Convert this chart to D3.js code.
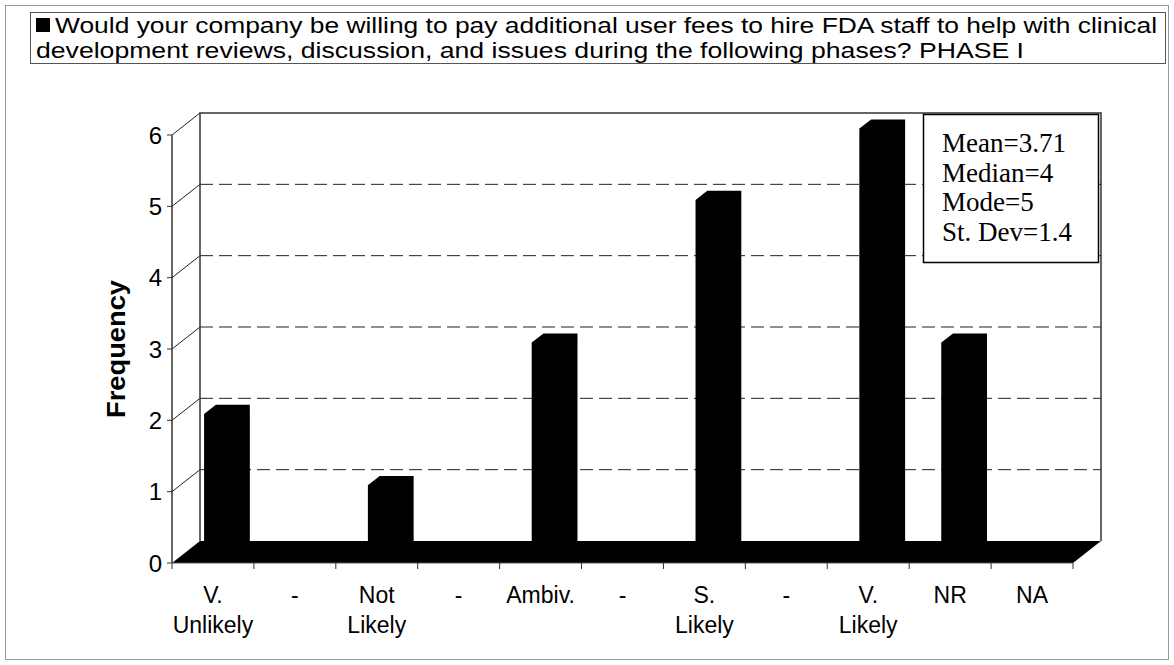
<!DOCTYPE html>
<html>
<head>
<meta charset="utf-8">
<script src="https://cdn.jsdelivr.net/npm/d3@7"></script>
<style>
  body { margin: 0; background: #fff; }
  svg { display: block; }
</style>
</head>
<body>
<div id="chart"></div>
<script>
// chart data
const categories = ['V. Unlikely', '- 1', 'Not Likely', '- 2', 'Ambiv.', '- 3', 'S. Likely', '- 4', 'V. Likely', 'NR', 'NA'];
const tickLabels = [['V.', 'Unlikely'], ['-'], ['Not', 'Likely'], ['-'], ['Ambiv.'], ['-'], ['S.', 'Likely'], ['-'], ['V.', 'Likely'], ['NR'], ['NA']];
const frequencies = [2, 0, 1, 0, 3, 0, 5, 0, 6, 3, 0];
const yTicks = [0, 1, 2, 3, 4, 5, 6];
const titleLines = [
  'Would your company be willing to pay additional user fees to hire FDA staff to help with clinical',
  'development reviews, discussion, and issues during the following phases? PHASE I'
];
const statsLines = ['Mean=3.71', 'Median=4', 'Mode=5', 'St. Dev=1.4'];

const width = 1174, height = 665;
const depth = { dx: 28, dy: -22 };   // 3d offset of back wall
const sans = 'Liberation Sans, Arial, sans-serif';

const svg = d3.select('#chart').append('svg')
  .attr('width', width)
  .attr('height', height);

// outer frame
svg.append('rect')
  .attr('x', 5.5).attr('y', 5.5)
  .attr('width', width - 11).attr('height', height - 11)
  .attr('fill', 'none').attr('stroke', '#999');

// title box
const title = svg.append('g').attr('class', 'title');
title.append('rect')
  .attr('x', 30.5).attr('y', 12.5)
  .attr('width', 1135).attr('height', 51)
  .attr('fill', '#fff').attr('stroke', '#555');
title.append('rect')
  .attr('x', 36).attr('y', 18)
  .attr('width', 14).attr('height', 14)
  .attr('fill', '#000');
// both lines in one text element, stretched a little like the scan
title.append('text')
  .attr('font-family', sans)
  .attr('font-size', 22)
  .selectAll('tspan')
  .data(titleLines)
  .join('tspan')
  .attr('x', (d, i) => i === 0 ? 55 : 36)
  .attr('y', (d, i) => 32.5 + i * 25)
  .attr('textLength', (d, i) => i === 0 ? 1102 : 988)
  .attr('lengthAdjust', 'spacingAndGlyphs')
  .text(d => d);

// scales
const x = d3.scaleBand().domain(categories).range([172, 1073]);
const y = d3.scaleLinear().domain([0, 6]).range([563, 135]);

const shift = (px, py, f) => [px + depth.dx * f, py + depth.dy * f];

const plot = svg.append('g').attr('class', 'plot');
const x0 = x.range()[0], x1 = x.range()[1];

// back wall gridlines (dashed)
plot.selectAll('line.grid')
  .data(yTicks.filter(v => v > 0 && v < 6))
  .join('line')
  .attr('class', 'grid')
  .attr('x1', x0 + depth.dx).attr('x2', x1 + depth.dx)
  .attr('y1', d => y(d) + depth.dy).attr('y2', d => y(d) + depth.dy)
  .attr('stroke', '#222')
  .attr('stroke-dasharray', '13,6');

// side wall diagonals
plot.selectAll('line.side')
  .data(yTicks.filter(v => v > 0))
  .join('line')
  .attr('class', 'side')
  .attr('x1', x0).attr('x2', x0 + depth.dx)
  .attr('y1', d => y(d)).attr('y2', d => y(d) + depth.dy)
  .attr('stroke', '#222');

// wall edges
const wallTop = y(6) + depth.dy, wallBottom = y(0) + depth.dy;
plot.append('path')
  .attr('d', `M${x0 + depth.dx},${wallBottom}V${wallTop}H${x1 + depth.dx}V${wallBottom}`)
  .attr('fill', 'none').attr('stroke', '#333').attr('stroke-width', 1.5);
plot.append('line')
  .attr('x1', x0).attr('x2', x0)
  .attr('y1', y(6)).attr('y2', y(0))
  .attr('stroke', '#333').attr('stroke-width', 1.5);

// floor
plot.append('path')
  .attr('d', `M${x0},${y(0)}L${x1},${y(0)}L${x1 + depth.dx},${wallBottom}L${x0 + depth.dx},${wallBottom}Z`)
  .attr('fill', '#000');

// bars
const fFront = 0.29, fBack = 0.71, barW = 34;
plot.selectAll('path.bar')
  .data(frequencies.map((v, i) => ({ cat: categories[i], v })).filter(d => d.v > 0))
  .join('path')
  .attr('class', 'bar')
  .attr('fill', '#000')
  .attr('d', d => {
    const c = x(d.cat) + x.bandwidth() / 2;
    const [fl, ft] = shift(c - barW / 2, y(d.v), fFront);
    const [fr, fb] = shift(c + barW / 2, y(0), fFront);
    const [bl, bt] = shift(c - barW / 2, y(d.v), fBack);
    const [br, bb] = shift(c + barW / 2, y(0), fBack);
    return `M${fl},${fb}L${fl},${ft}L${bl},${bt}L${br},${bt}L${br},${bb}L${fr},${fb}Z`;
  });

// x axis ticks & labels
const xAxis = svg.append('g').attr('class', 'x-axis');
xAxis.append('line')
  .attr('x1', x0).attr('x2', x1)
  .attr('y1', y(0)).attr('y2', y(0))
  .attr('stroke', '#555');
xAxis.selectAll('line.tick')
  .data(categories.map(c => x(c)).concat([x1]))
  .join('line')
  .attr('class', 'tick')
  .attr('x1', d => d).attr('x2', d => d)
  .attr('y1', y(0)).attr('y2', y(0) + 6)
  .attr('stroke', '#333');
const xl = xAxis.selectAll('text')
  .data(tickLabels)
  .join('text')
  .attr('x', (d, i) => x(categories[i]) + x.bandwidth() / 2)
  .attr('y', 603)
  .attr('text-anchor', 'middle')
  .attr('font-family', sans)
  .attr('font-size', 23);
xl.selectAll('tspan')
  .data(d => d)
  .join('tspan')
  .attr('x', function () { return this.parentNode.getAttribute('x'); })
  .attr('dy', (d, i) => i === 0 ? 0 : 30)
  .text(d => d);

// y axis
const yAxis = svg.append('g').attr('class', 'y-axis');
yAxis.selectAll('line')
  .data(yTicks)
  .join('line')
  .attr('x1', x0 - 5).attr('x2', x0)
  .attr('y1', d => y(d)).attr('y2', d => y(d))
  .attr('stroke', '#333');
yAxis.selectAll('text')
  .data(yTicks)
  .join('text')
  .attr('x', x0 - 10)
  .attr('y', d => y(d))
  .attr('dy', '0.36em')
  .attr('text-anchor', 'end')
  .attr('font-family', sans)
  .attr('font-size', 24)
  .text(d => d);
svg.append('text')
  .attr('transform', `translate(125,${(y(0) + y(6)) / 2}) rotate(-90)`)
  .attr('text-anchor', 'middle')
  .attr('font-family', sans)
  .attr('font-weight', 'bold')
  .attr('font-size', 25)
  .attr('textLength', 138)
  .attr('lengthAdjust', 'spacingAndGlyphs')
  .text('Frequency');

// stats box
const stats = svg.append('g').attr('class', 'stats');
stats.append('rect')
  .attr('x', 923.5).attr('y', 114.5)
  .attr('width', 175).attr('height', 148)
  .attr('fill', '#fff').attr('stroke', '#000').attr('stroke-width', 1.5);
stats.selectAll('text')
  .data(statsLines)
  .join('text')
  .attr('x', 942)
  .attr('y', (d, i) => 152 + i * 29.5)
  .attr('font-family', 'Liberation Serif, Times New Roman, serif')
  .attr('font-size', 27)
  .text(d => d);
</script>
</body>
</html>
